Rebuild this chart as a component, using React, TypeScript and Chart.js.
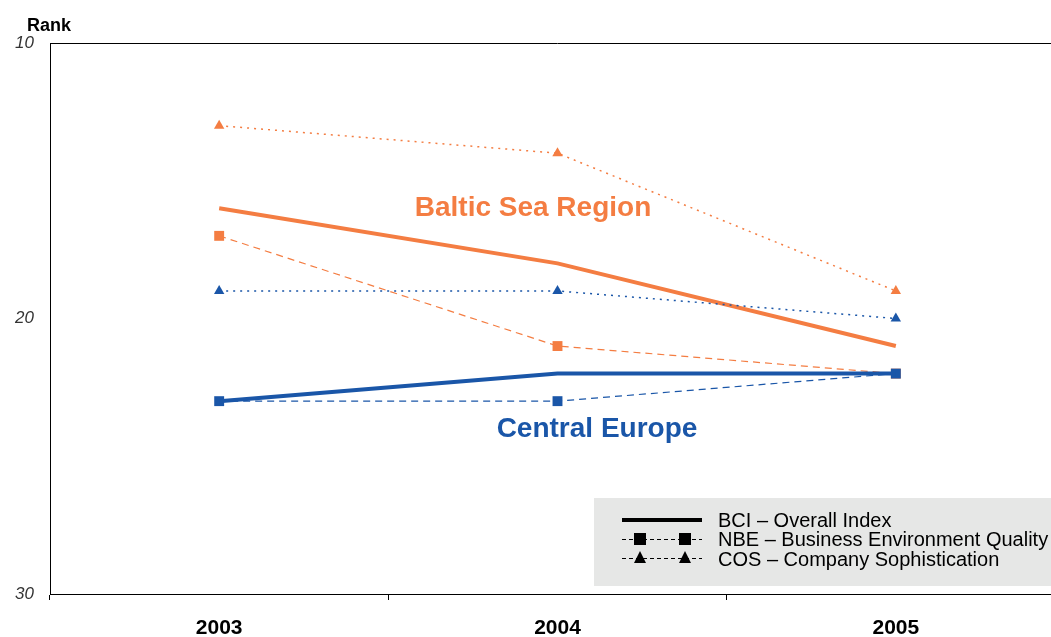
import React, { useEffect, useRef } from "react";
import { Chart, registerables } from "chart.js";

Chart.register(...registerables);

const years = ["2003", "2004", "2005"];
const balticBCI = [16, 18, 21];
const balticNBE = [17, 21, 22];
const balticCOS = [13, 14, 19];
const centralBCI = [23, 22, 22];
const centralNBE = [23, 23, 22];
const centralCOS = [19, 19, 20];
const yTicks = [10, 20, 30];
const legendItems = [
  "BCI \u2013 Overall Index",
  "NBE \u2013 Business Environment Quality",
  "COS \u2013 Company Sophistication",
];

const ORANGE = "#F47D42";
const BLUE = "#1A56A8";
const FONT = "Arial, 'Liberation Sans', sans-serif";

const overlay = {
  id: "overlay",
  afterDraw(chart: any) {
    const ctx = chart.ctx;
    const a = chart.chartArea;
    ctx.save();
    ctx.strokeStyle = "#000";
    ctx.lineWidth = 1;
    ctx.beginPath();
    ctx.moveTo(a.left, a.top + 0.5);
    ctx.lineTo(a.right, a.top + 0.5);
    ctx.stroke();
    ctx.fillStyle = "#000";
    ctx.font = "bold 18px " + FONT;
    ctx.textAlign = "left";
    ctx.textBaseline = "alphabetic";
    ctx.fillText("Rank", 27, 31);
    ctx.font = "bold 28px " + FONT;
    ctx.textAlign = "center";
    ctx.textBaseline = "middle";
    ctx.fillStyle = ORANGE;
    ctx.fillText("Baltic Sea Region", 533, 208);
    ctx.fillStyle = BLUE;
    ctx.fillText("Central Europe", 597, 429);
    ctx.fillStyle = "#E6E7E6";
    ctx.fillRect(594, 498, 480, 88);
    ctx.fillStyle = "#000";
    ctx.strokeStyle = "#000";
    ctx.lineWidth = 4;
    ctx.beginPath();
    ctx.moveTo(622, 520);
    ctx.lineTo(702, 520);
    ctx.stroke();
    const rows = [539, 558];
    rows.forEach((y, i) => {
      ctx.lineWidth = 1;
      ctx.setLineDash([4, 3]);
      ctx.beginPath();
      ctx.moveTo(622, y + 0.5);
      ctx.lineTo(702, y + 0.5);
      ctx.stroke();
      ctx.setLineDash([]);
      [640, 685].forEach((x) => {
        if (i === 0) {
          ctx.fillRect(x - 6, y - 6, 12, 12);
        } else {
          ctx.beginPath();
          ctx.moveTo(x, y - 7);
          ctx.lineTo(x + 6, y + 5);
          ctx.lineTo(x - 6, y + 5);
          ctx.closePath();
          ctx.fill();
        }
      });
    });
    ctx.font = "20px " + FONT;
    ctx.textAlign = "left";
    ctx.textBaseline = "middle";
    legendItems.forEach((t, i) => {
      ctx.fillText(t, 718, 521 + i * 19.5);
    });
    ctx.restore();
  },
};

export default function App() {
  const ref = useRef<HTMLCanvasElement>(null);
  useEffect(() => {
    if (!ref.current) return;
    const mk = (label: string, data: number[], color: string, kind: string) => {
      const base: any = {
        label,
        data,
        borderColor: color,
        backgroundColor: color,
        fill: false,
        tension: 0,
      };
      if (kind === "bci") {
        base.borderWidth = 4;
        base.pointRadius = 0;
      } else if (kind === "nbe") {
        base.borderWidth = 1.2;
        base.borderDash = [7, 5];
        base.pointStyle = "rect";
        base.pointRadius = 7;
        base.pointBorderWidth = 0;
      } else {
        base.borderWidth = 1.5;
        base.borderDash = [2, 5];
        base.pointStyle = "triangle";
        base.pointRadius = 6;
        base.pointBorderWidth = 0;
      }
      return base;
    };
    const chart = new Chart(ref.current, {
      type: "line",
      data: {
        labels: years,
        datasets: [
          mk("CE BCI", centralBCI, BLUE, "bci"),
          mk("CE NBE", centralNBE, BLUE, "nbe"),
          mk("CE COS", centralCOS, BLUE, "cos"),
          mk("BSR BCI", balticBCI, ORANGE, "bci"),
          mk("BSR NBE", balticNBE, ORANGE, "nbe"),
          mk("BSR COS", balticCOS, ORANGE, "cos"),
        ],
      },
      options: {
        animation: false,
        responsive: false,
        maintainAspectRatio: false,
        layout: { padding: { top: 43, left: 0, right: 0, bottom: 0 } },
        plugins: {
          legend: { display: false },
          tooltip: { enabled: false },
        },
        scales: {
          x: {
            type: "category",
            offset: true,
            grid: {
              display: true,
              drawOnChartArea: false,
              drawTicks: true,
              tickLength: 6,
              color: "#000",
              offset: true,
            },
            border: { display: true, color: "#000", width: 1 },
            ticks: {
              color: "#000",
              font: { family: FONT, size: 21, weight: "bold" },
              padding: 16,
              maxRotation: 0,
            },
            afterFit(scale: any) {
              scale.height = 43;
            },
          },
          y: {
            reverse: true,
            min: 10,
            max: 30,
            afterBuildTicks(scale: any) {
              scale.ticks = yTicks.map((v) => ({ value: v }));
            },
            grid: { display: false, drawTicks: false },
            border: { display: true, color: "#000", width: 1 },
            ticks: {
              color: "#333",
              font: { family: FONT, size: 17, style: "italic" },
              padding: 16,
            },
            afterFit(scale: any) {
              scale.width = 50;
            },
          },
        },
      },
      plugins: [overlay],
    });
    return () => chart.destroy();
  }, []);
  return (
    <div
      style={{
        position: "absolute",
        left: 0,
        top: 0,
        width: 1051,
        height: 637,
        overflow: "hidden",
        background: "#fff",
      }}
    >
      <canvas ref={ref} width={1072} height={637} style={{ width: 1072, height: 637, display: "block" }} />
    </div>
  );
}
